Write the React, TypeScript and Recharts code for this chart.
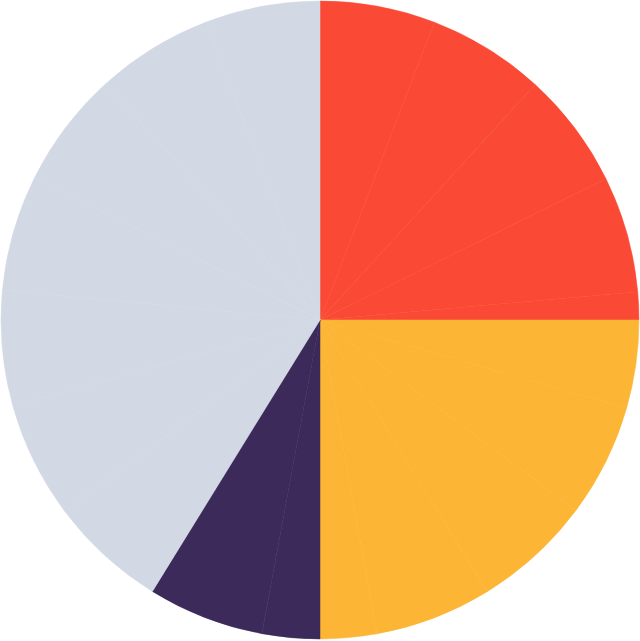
import React from "react";
import { PieChart, Pie, Cell } from "recharts";

const categories = ["A1", "A2", "A3", "A4", "A5", "B1", "B2", "B3", "B4", "B5", "C1", "C2", "D1", "D2", "D3", "D4", "D5", "D6", "D7"];
const groups = ["A", "A", "A", "A", "A", "B", "B", "B", "B", "B", "C", "C", "D", "D", "D", "D", "D", "D", "D"];
const values = [21, 21.4, 21.3, 21.2, 5.1, 16, 20.6, 21.8, 21.3, 10.3, 10.5, 21.2, 21.4, 21.1, 21.2, 21.2, 21.2, 21.2, 21];
const groupColors: Record<string, string> = {
  A: "#FA4A35",
  B: "#FDB535",
  C: "#3C2A5A",
  D: "#D3D9E4",
};

const data = categories.map((name, i) => ({ name, value: values[i], group: groups[i] }));

export default function App() {
  return (
    <div style={{ position: "absolute", left: 0, top: 0, width: 640, height: 641, background: "#fff" }}>
      <PieChart width={640} height={641} margin={{ top: 0, right: 0, bottom: 0, left: 0 }}>
        <Pie
          data={data}
          dataKey="value"
          nameKey="name"
          cx={320}
          cy={320}
          outerRadius={319}
          innerRadius={0}
          startAngle={90}
          endAngle={-270}
          strokeWidth={0.5}
          isAnimationActive={false}
          label={false}
          labelLine={false}
        >
          {data.map((d, i) => (
            <Cell key={i} fill={groupColors[d.group]} stroke={groupColors[d.group]} />
          ))}
        </Pie>
      </PieChart>
    </div>
  );
}
